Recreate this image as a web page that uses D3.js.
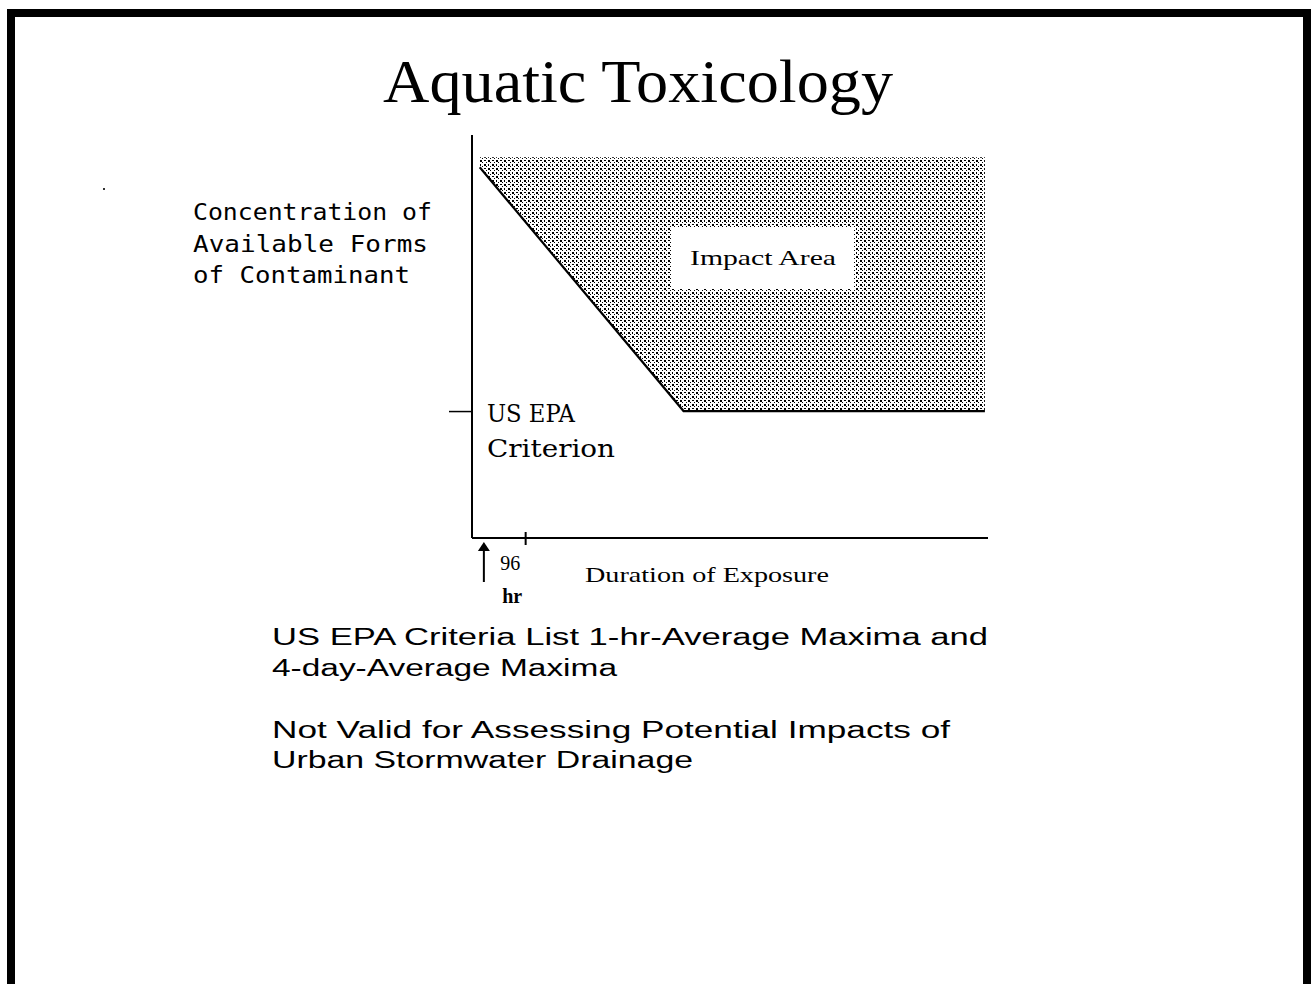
<!DOCTYPE html>
<html><head><meta charset="utf-8">
<script src="https://cdn.jsdelivr.net/npm/d3@7/dist/d3.min.js"></script>
<style>body{margin:0;background:#fff}svg{display:block}</style>
</head><body>
<script>
// ---- data (abstract units: duration 0..100, concentration 0..100) ----
const criterionDuration = [1.5, 41, 99.4];
const criterionConc = [92, 31.5, 31.5];
const impactTop = 94.5;
const xTickValues = [10.3];
const xTickLabels = ["96", "hr"];
const yTickValues = [31.5];
const yLabelLines = ["Concentration of", "Available Forms", "of Contaminant"];
const criterionLabel = ["US EPA", "Criterion"];
const notesLines = ["US EPA Criteria List 1-hr-Average Maxima and", "4-day-Average Maxima", "", "Not Valid for Assessing Potential Impacts of", "Urban Stormwater Drainage"];

const W = 1313, H = 984;
const svg = d3.select("body").append("svg").attr("width", W).attr("height", H);
const defs = svg.append("defs");
const pat = defs.append("pattern").attr("id", "stip").attr("patternUnits", "userSpaceOnUse")
  .attr("width", 8).attr("height", 8);
[[0,0,2,2],[4,4,2,2],[4,0,2,1],[0,4,1,2],[2,2,1,1],[6,6,1,1],[2,6,1,1],[6,2,1,1]].forEach(r =>
  pat.append("rect").attr("x", r[0]).attr("y", r[1]).attr("width", r[2]).attr("height", r[3]).attr("fill", "#000"));

// frame
svg.append("rect").attr("x", 11).attr("y", 13).attr("width", 1296).attr("height", 990)
  .attr("fill", "none").attr("stroke", "#000").attr("stroke-width", 8);

const x = d3.scaleLinear().domain([0, 100]).range([472, 988]);
const y = d3.scaleLinear().domain([0, 100]).range([538, 135]);

// title
svg.append("text").attr("x", 383).attr("y", 102).attr("textLength", 510).attr("lengthAdjust", "spacingAndGlyphs")
  .attr("font-family", "Liberation Serif, Times New Roman, serif").attr("font-size", 62).text("Aquatic Toxicology");

// impact area
const pts = criterionDuration.map((d, i) => [d, criterionConc[i]]);
const area = d3.area().x(d => x(d[0])).y0(y(impactTop)).y1(d => y(d[1]));
svg.append("path").datum(pts).attr("d", area).attr("fill", "url(#stip)");
svg.append("path").datum(pts).attr("d", d3.line().x(d => x(d[0])).y(d => y(d[1])))
  .attr("fill", "none").attr("stroke", "#000").attr("stroke-width", 2.2);

// impact label box
svg.append("rect").attr("x", 672).attr("y", 228).attr("width", 182).attr("height", 61).attr("fill", "#fff");
svg.append("text").attr("x", 690).attr("y", 265).attr("textLength", 146).attr("lengthAdjust", "spacingAndGlyphs")
  .attr("font-family", "Liberation Serif, serif").attr("font-size", 22).text("Impact Area");

// axes
const xAxis = d3.axisBottom(x).tickValues(xTickValues).tickFormat("").tickSizeInner(-6).tickSizeOuter(0);
const gx = svg.append("g").attr("transform", `translate(0,${y(0)})`).call(xAxis);
gx.select(".domain").attr("stroke-width", 2).attr("d", `M${x(0)},0H${x(100)}`);
gx.selectAll(".tick line").attr("stroke-width", 2).attr("y1", 7);
const yAxis = d3.axisLeft(y).tickValues(yTickValues).tickFormat("").tickSizeInner(23).tickSizeOuter(0);
const gy = svg.append("g").attr("transform", `translate(${x(0)},0)`).call(yAxis);
gy.select(".domain").attr("stroke-width", 2).attr("d", `M0,${y(100)}V${y(0)}`);
gy.selectAll(".tick line").attr("stroke-width", 1.5);

// arrow at origin
const ax = x(2.3);
svg.append("line").attr("x1", ax).attr("x2", ax).attr("y1", 548).attr("y2", 582).attr("stroke", "#000").attr("stroke-width", 2);
svg.append("path").attr("d", `M${ax},542L${ax-6},551L${ax+6},551Z`).attr("fill", "#000");

// tick labels
svg.append("text").attr("x", x(xTickValues[0]) - 25).attr("y", 570).attr("font-family", "Liberation Serif, serif")
  .attr("font-size", 20).text(xTickLabels[0]);
svg.append("text").attr("x", x(xTickValues[0]) - 23).attr("y", 603).attr("font-family", "Liberation Serif, serif")
  .attr("font-size", 20).attr("font-weight", "bold").text(xTickLabels[1]);

svg.append("text").attr("x", 585).attr("y", 582).attr("textLength", 244).attr("lengthAdjust", "spacingAndGlyphs")
  .attr("font-family", "Liberation Serif, serif").attr("font-size", 21).text("Duration of Exposure");

// criterion label
const critW = [88, 128];
criterionLabel.forEach((t, i) => svg.append("text").attr("x", 487).attr("y", 422 + i * 35)
  .attr("textLength", critW[i]).attr("lengthAdjust", "spacingAndGlyphs")
  .attr("font-family", "DejaVu Serif, serif").attr("font-size", 24).text(t));

// y label
const ylW = [239, 235, 217];
yLabelLines.forEach((t, i) => svg.append("text").attr("x", 193).attr("y", 220 + i * 31.5)
  .attr("textLength", ylW[i]).attr("lengthAdjust", "spacingAndGlyphs")
  .attr("font-family", "DejaVu Sans Mono, monospace").attr("font-size", 23).text(t));

// notes
const noteW = [716, 345, 0, 678, 421];
const noteY = [645, 676, 0, 738, 768];
notesLines.forEach((t, i) => { if (!t) return;
  svg.append("text").attr("x", 272).attr("y", noteY[i]).attr("textLength", noteW[i]).attr("lengthAdjust", "spacingAndGlyphs")
    .attr("font-family", "Liberation Sans, Arial, sans-serif").attr("font-size", 23).text(t); });

// stray dot
svg.append("rect").attr("x", 103).attr("y", 188).attr("width", 2).attr("height", 2).attr("fill", "#333");
</script>
</body></html>
